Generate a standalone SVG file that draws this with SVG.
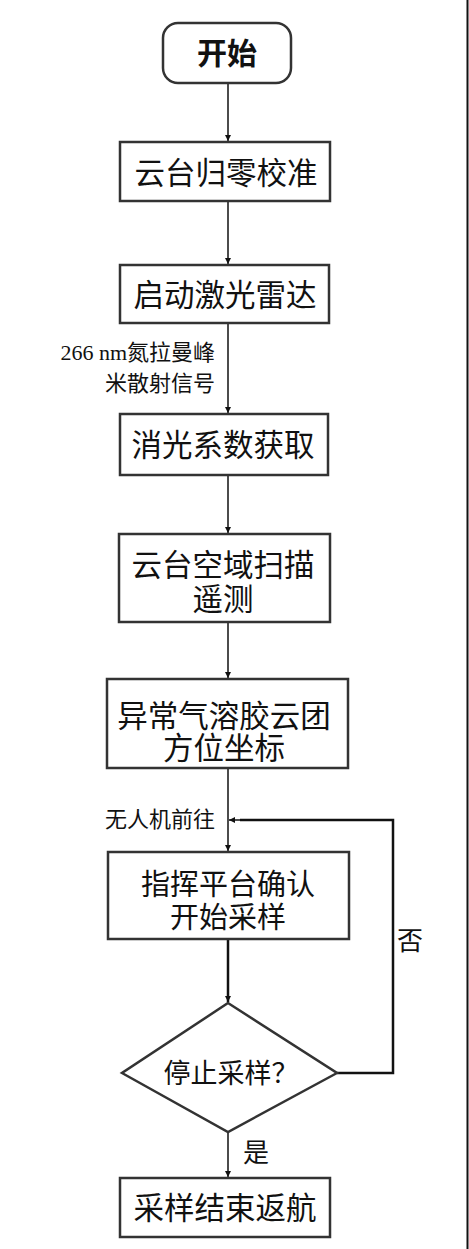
<svg xmlns="http://www.w3.org/2000/svg" width="469" height="1249" viewBox="0 0 469 1249">
<style>
.box{fill:#fff;stroke:#333;stroke-width:2.5}
.t{font-family:"Liberation Serif","Noto Sans CJK SC",serif;fill:#111;text-anchor:middle}
.big{font-size:30.5px}
.lbl{font-family:"Liberation Serif","Noto Sans CJK SC",serif;fill:#111;font-size:22px}
.c{fill:none;stroke:#111;stroke-width:1.5}
.ct{fill:none;stroke:#111;stroke-width:2.5}
</style>
<defs>
<marker id="ah" viewBox="0 0 10 10" refX="10" refY="5" markerWidth="6" markerHeight="10" markerUnits="userSpaceOnUse" orient="auto">
<path d="M0,0 L10,5 L0,10 z" fill="#111"/>
</marker>
</defs>
<rect width="469" height="1249" fill="#fff"/>
<line x1="467.5" y1="0" x2="467.5" y2="1249" stroke="#111" stroke-width="2"/>
<g id="connectors">
<line class="c" x1="228" y1="83" x2="228" y2="141" marker-end="url(#ah)"/>
<line class="c" x1="228" y1="201" x2="228" y2="264" marker-end="url(#ah)"/>
<line class="c" x1="228" y1="323" x2="228" y2="413" marker-end="url(#ah)"/>
<line class="c" x1="228" y1="475" x2="228" y2="533" marker-end="url(#ah)"/>
<line class="c" x1="228" y1="622" x2="228" y2="678" marker-end="url(#ah)"/>
<line class="c" x1="228" y1="768" x2="228" y2="851" marker-end="url(#ah)"/>
<line class="ct" x1="228" y1="939" x2="228" y2="1002" marker-end="url(#ah)"/>
<polyline class="ct" points="337,1073 393,1073 393,820 240,820"/>
<line class="c" x1="242" y1="820" x2="229" y2="820" marker-end="url(#ah)"/>
<line class="c" x1="228" y1="1132" x2="228" y2="1177" marker-end="url(#ah)"/>
<text class="lbl" x="215" y="360" text-anchor="end">266 nm氮拉曼峰</text>
<text class="lbl" x="215" y="391" text-anchor="end">米散射信号</text>
<text class="lbl" x="215" y="827" text-anchor="end">无人机前往</text>
<text class="t" x="410" y="950" style="font-size:26px">否</text>
<text class="t" x="256" y="1162" style="font-size:26px">是</text>
</g>
<g id="start">
<rect class="box" x="163" y="23" width="128" height="60" rx="15"/>
<text class="t" x="227" y="64" style="font-size:30px;font-weight:bold">开始</text>
</g>
<g id="calib">
<rect class="box" x="120" y="142" width="210" height="59"/>
<text class="t big" x="226" y="184">云台归零校准</text>
</g>
<g id="lidar">
<rect class="box" x="120" y="265" width="209" height="58"/>
<text class="t big" x="225" y="306">启动激光雷达</text>
</g>
<g id="extinction">
<rect class="box" x="120" y="414" width="208" height="61"/>
<text class="t big" x="223" y="456">消光系数获取</text>
</g>
<g id="scan">
<rect class="box" x="119" y="534" width="211" height="88"/>
<text class="t big" x="223" y="576">云台空域扫描</text>
<text class="t big" x="223" y="610">遥测</text>
</g>
<g id="coords">
<rect class="box" x="107" y="679" width="241" height="89"/>
<text class="t big" x="224" y="727">异常气溶胶云团</text>
<text class="t big" x="224" y="759">方位坐标</text>
</g>
<g id="confirm">
<rect class="box" x="108" y="852" width="241" height="87"/>
<text class="t" x="228" y="895" style="font-size:29px">指挥平台确认</text>
<text class="t" x="228" y="928" style="font-size:29px">开始采样</text>
</g>
<g id="decision">
<polygon class="box" points="228,1003 337,1073 228,1132 122,1073"/>
<text class="t" x="231" y="1083" style="font-size:27px">停止采样？</text>
</g>
<g id="end">
<rect class="box" x="120" y="1178" width="210" height="59"/>
<text class="t big" x="225" y="1219">采样结束返航</text>
</g>
</svg>
